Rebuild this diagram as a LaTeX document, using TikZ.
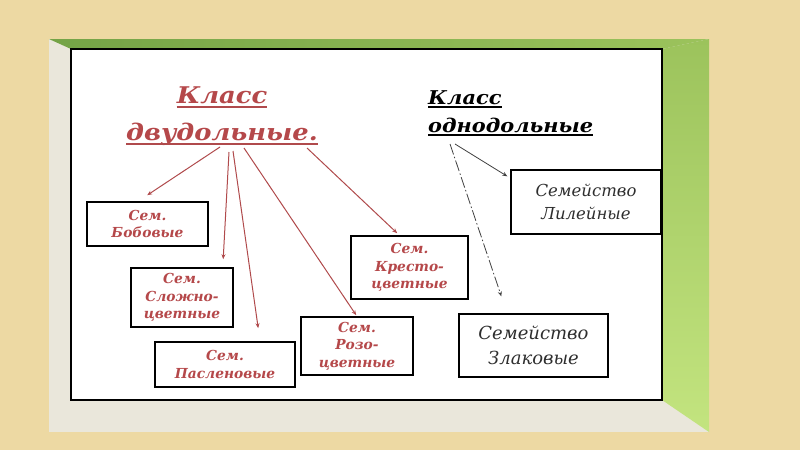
\documentclass[tikz,border=0pt]{standalone}
\usepackage{fontspec}
\usepackage{graphicx}
\setmainfont{DejaVu Serif}
\usetikzlibrary{arrows.meta}
\definecolor{bg}{HTML}{EDD9A3}
\definecolor{framegray}{HTML}{EAE7DB}
\definecolor{gdark}{HTML}{74A346}
\definecolor{gmid}{HTML}{9CC35C}
\definecolor{glight}{HTML}{C3E47F}
\definecolor{redtxt}{HTML}{B5484A}
\definecolor{redline}{HTML}{B04A4C}
\definecolor{graytxt}{HTML}{2E2E2E}
\tikzset{
  redbox/.style={draw=black, line width=1.6pt, fill=white, align=center, inner sep=0pt,
    text=redtxt, font=\bfseries\itshape\fontsize{13.8}{17.5}\selectfont},
  blackbox/.style={draw=black, line width=1.3pt, fill=white, align=center, inner sep=0pt,
    text=graytxt, font=\itshape\fontsize{17}{24}\selectfont},
  redarrow/.style={draw=redline, line width=1pt, -{Stealth[length=5pt,width=4pt]}},
  blackarrow/.style={draw=black!75, line width=0.8pt, -{Stealth[length=5pt,width=4pt]}},
  titletext/.style={inner sep=0pt, anchor=base, font=\bfseries\itshape\fontsize{23}{23}\selectfont, text=redtxt},
  rtitletext/.style={inner sep=0pt, anchor=base west, font=\bfseries\itshape\fontsize{19}{19}\selectfont, text=black},
}
\begin{document}
\begin{tikzpicture}[x=1pt,y=-1pt]
\useasboundingbox (0,0) rectangle (800,450);
\fill[bg] (0,0) rectangle (800,450);
% frame
\fill[framegray] (49,39) rectangle (709,432);
\shade[left color=gdark, right color=gmid] (49,39) -- (709,39) -- (662,49) -- (71,49) -- cycle;
\shade[top color=gmid, bottom color=glight] (709,39) -- (709,432) -- (662,400) -- (662,49) -- cycle;
\draw[fill=white, line width=1.4pt] (71,49) rectangle (662,400);

% titles
\node[titletext] (t1) at (222,103) {\scalebox{1.12}[1]{Класс}};
\node[titletext] (t2) at (222,140) {\scalebox{1.12}[1]{двудольные.}};
\draw[redline, line width=1.4pt] ([yshift=-4pt]t1.base west) -- ([yshift=-4pt]t1.base east);
\draw[redline, line width=1.4pt] ([yshift=-4pt]t2.base west) -- ([yshift=-4pt]t2.base east);

\node[rtitletext] (r1) at (428,104) {\scalebox{1.1}[1]{Класс}};
\node[rtitletext] (r2) at (428,132) {\scalebox{1.1}[1]{однодольные}};
\draw[black, line width=1.2pt] ([yshift=-3pt]r1.base west) -- ([yshift=-3pt]r1.base east);
\draw[black, line width=1.2pt] ([yshift=-3pt]r2.base west) -- ([yshift=-3pt]r2.base east);

% boxes
\node[redbox, minimum width=121pt, minimum height=44pt] (bob) at (147.5,224) {Сем.\\Бобовые};
\node[redbox, minimum width=102pt, minimum height=59pt] (slo) at (182,297.5) {Сем.\\Сложно-\\цветные};
\node[redbox, minimum width=140pt, minimum height=45pt] (pas) at (225,364.5) {Сем.\\Пасленовые};
\node[redbox, minimum width=112pt, minimum height=58pt] (roz) at (357,346) {Сем.\\Розо-\\цветные};
\node[redbox, minimum width=117pt, minimum height=63pt] (kre) at (409.5,267.5) {Сем.\\Кресто-\\цветные};
\node[blackbox, minimum width=149pt, minimum height=63pt, font=\itshape\fontsize{18}{25}\selectfont] (zla) at (533.5,345.5) {Семейство\\Злаковые};
\node[blackbox, minimum width=150pt, minimum height=64pt, font=\itshape\fontsize{16.5}{23}\selectfont] (lil) at (586,202) {Семейство\\Лилейные};

% arrow start points
\coordinate (s1) at (220,147);
\coordinate (s2) at (229,152);
\coordinate (s3) at (233,151);
\coordinate (s4) at (244,148);
\coordinate (s5) at (307,148);
\coordinate (s6) at (455,144);
\coordinate (s7) at (450,144);

\draw[redarrow] (s1) -- ([xshift=61pt,yshift=6pt]bob.north west);
\draw[redarrow] (s2) -- ([xshift=93pt,yshift=8pt]slo.north west);
\draw[redarrow] (s3) -- ([xshift=104pt,yshift=13pt]pas.north west);
\draw[redarrow] (s4) -- ([xshift=56pt,yshift=1pt]roz.north west);
\draw[redarrow] (s5) -- ([xshift=47pt,yshift=2pt]kre.north west);
\draw[blackarrow] (s6) -- ([xshift=-3pt,yshift=-7pt]lil.north west);
\draw[blackarrow, dash pattern=on 11pt off 2.5pt on 1.5pt off 2.5pt] (s7) -- ([xshift=43pt,yshift=17pt]zla.north west);
\end{tikzpicture}
\end{document}
